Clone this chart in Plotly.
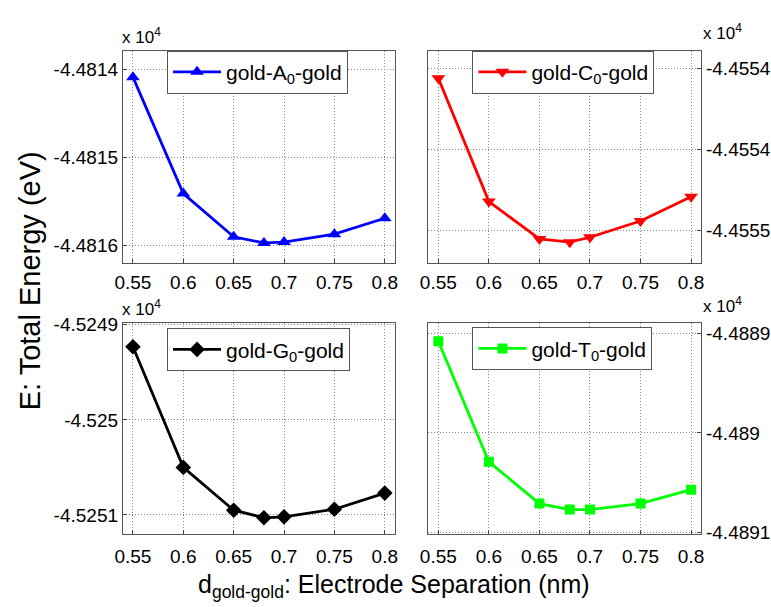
import plotly.graph_objects as go

W, H = 771, 607

# ---------------- data ----------------
separation = [0.55, 0.6, 0.65, 0.68, 0.7, 0.75, 0.8]
energy_A = [-44814.09, -44815.41, -44815.90, -44815.97, -44815.96, -44815.87, -44815.69]
energy_C = [-44553.56, -44554.32, -44554.55, -44554.57, -44554.54, -44554.44, -44554.29]
energy_G = [-45249.23, -45250.50, -45250.95, -45251.03, -45251.02, -45250.94, -45250.77]
energy_T = [-44889.08, -44890.29, -44890.71, -44890.77, -44890.77, -44890.71, -44890.57]

x_ticks = [0.55, 0.6, 0.65, 0.7, 0.75, 0.8]
x_ticklabels = ["0.55", "0.6", "0.65", "0.7", "0.75", "0.8"]

ticks_A = [-44816, -44815, -44814]
labels_A = ["-4.4816", "-4.4815", "-4.4814"]
ticks_C = [-44554.5, -44554.0, -44553.5]
labels_C = ["-4.4555", "-4.4554", "-4.4554"]
ticks_G = [-45251, -45250, -45249]
labels_G = ["-4.5251", "-4.525", "-4.5249"]
ticks_T = [-44891, -44890, -44889]
labels_T = ["-4.4891", "-4.489", "-4.4889"]

names = ["gold-A<sub>0</sub>-gold", "gold-C<sub>0</sub>-gold",
         "gold-G<sub>0</sub>-gold", "gold-T<sub>0</sub>-gold"]

FONT = "Arial, Liberation Sans, sans-serif"

def px_x(p):
    return p / W

def px_y(p):
    return 1 - p / H

# panel boxes in pixels (left, right, top, bottom)
boxes = [
    (117, 394, 43, 262),
    (428, 706, 43, 262),
    (117, 394, 324, 541),
    (428, 706, 324, 541),
]
yranges = [
    [-44816.20, -44813.79],
    [-44554.70, -44553.39],
    [-45251.20, -45248.985],
    [-44891.015, -44888.90],
]
yticks = [(ticks_A, labels_A), (ticks_C, labels_C), (ticks_G, labels_G), (ticks_T, labels_T)]
series = [energy_A, energy_C, energy_G, energy_T]
colors = ["#0000FF", "#FF0000", "#000000", "#00FF00"]
symbols = ["triangle-up", "triangle-down", "diamond", "square"]
msizes = [12, 12, 12, 10]
legend_pos = [(162, 43), (473, 43), (162, 329), (473, 328)]

fig = go.Figure()
layout = dict(
    width=W, height=H,
    margin=dict(l=0, r=0, t=0, b=0),
    paper_bgcolor="white", plot_bgcolor="white",
    font=dict(family=FONT, color="black"),
    showlegend=True,
)

for i in range(4):
    k = "" if i == 0 else str(i + 1)
    xa, ya = "x" + k, "y" + k
    fig.add_trace(go.Scatter(
        x=separation, y=series[i], mode="lines+markers", name=names[i],
        xaxis=xa, yaxis=ya,
        line=dict(color=colors[i], width=2.8),
        marker=dict(symbol=symbols[i], size=msizes[i], color=colors[i]),
        legend="legend" + k,
    ))
    l, r, t, b = boxes[i]
    right_side = i in (1, 3)
    layout["xaxis" + k] = dict(
        domain=[px_x(l), px_x(r)], anchor=ya, range=[0.54, 0.81],
        tickvals=x_ticks, ticktext=x_ticklabels,
        tickfont=dict(size=19, family=FONT, color="black"),
        ticks="inside", ticklen=4, tickcolor="#444",
        ticklabelstandoff=2 if i < 2 else 5,
        showline=True, linecolor="#555", linewidth=1, mirror=True,
        showgrid=True, gridcolor="#888", griddash="1px,2px", gridwidth=1,
        zeroline=False,
    )
    layout["yaxis" + k] = dict(
        domain=[px_y(b), px_y(t)], anchor=xa, range=yranges[i],
        side="right" if right_side else "left",
        tickvals=yticks[i][0], ticktext=yticks[i][1],
        tickfont=dict(size=19, family=FONT, color="black"),
        ticks="inside", ticklen=4, tickcolor="#444",
        showline=True, linecolor="#555", linewidth=1, mirror=True,
        showgrid=True, gridcolor="#888", griddash="1px,2px", gridwidth=1,
        zeroline=False,
    )
    lx, ly = legend_pos[i]
    layout["legend" + k] = dict(
        x=px_x(lx), y=px_y(ly), xanchor="left", yanchor="top",
        bgcolor="white", bordercolor="#555", borderwidth=1,
        itemwidth=48,
        font=dict(size=21, family=FONT, color="black"),
    )

fig.update_layout(**layout)

annotations = []
# exponent labels
for (xp, yp, anc) in [(114, 28, "left"), (750, 24, "right"), (114, 308, "left"), (750, 305, "right")]:
    annotations.append(dict(
        text="x 10<sup>4</sup>", x=px_x(xp), y=px_y(yp), xref="paper", yref="paper",
        xanchor=anc, yanchor="middle", showarrow=False,
        font=dict(size=17, family=FONT, color="black"),
    ))
annotations.append(dict(
    text="E: Total Energy (eV)", x=px_x(22), y=px_y(280), xref="paper", yref="paper",
    xanchor="center", yanchor="middle", textangle=-90, showarrow=False,
    font=dict(size=29, family=FONT, color="black"),
))
annotations.append(dict(
    text="d<sub>gold-gold</sub>: Electrode Separation (nm)", x=px_x(393), y=px_y(595),
    xref="paper", yref="paper", xanchor="center", yanchor="middle", showarrow=False,
    font=dict(size=25, family=FONT, color="black"),
))
fig.update_layout(annotations=annotations)

fig.write_html("out.html")
